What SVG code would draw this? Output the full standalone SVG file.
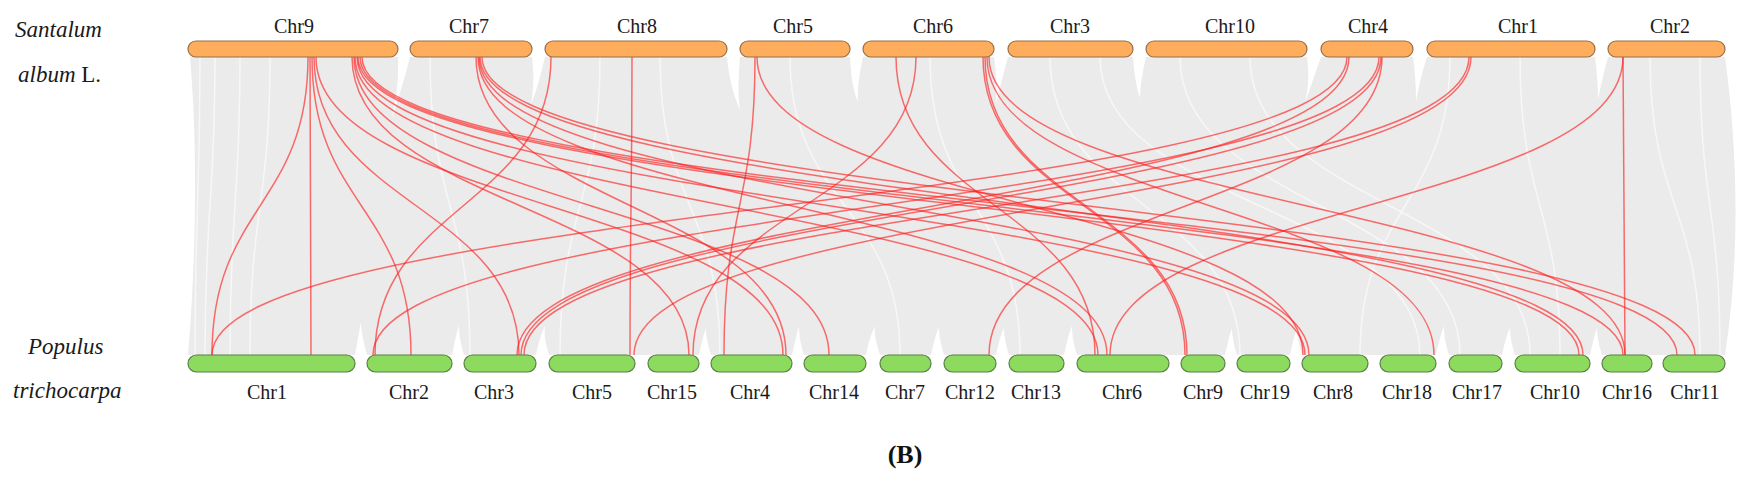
<svg xmlns="http://www.w3.org/2000/svg" width="1742" height="485" viewBox="0 0 1742 485">
<style>
.chrT{fill:#fdad5c;stroke:#9a7048;stroke-width:1.2}
.chrB{fill:#8ddb5e;stroke:#5b7f47;stroke-width:1.2}
.lab{font-family:"Liberation Serif","Times New Roman",serif;font-size:20px;fill:#1a1a1a;text-anchor:middle}
.sp{font-family:"Liberation Serif","Times New Roman",serif;font-size:23px;fill:#1a1a1a}
.red path{fill:none;stroke:#ff1a1a;stroke-opacity:0.62;stroke-width:1.5}
.gray path{fill:none;stroke:#f7f7f7;stroke-width:1.5}
</style>
<rect width="1742" height="485" fill="#ffffff"/>
<g id="background">
<path d="M190,57 L1725,57 C1738,150 1740,260 1725,355 L188,355 C196,260 198,150 190,57 Z" fill="#ebebeb"/>
<g class="gray">
<path d="M200,57 C200,206 195,206 195,355"/>
<path d="M215,57 C215,206 205,206 205,355"/>
<path d="M240,57 C240,206 230,206 230,355"/>
<path d="M270,57 C270,206 250,206 250,355"/>
<path d="M430,57 C430,206 470,206 470,355"/>
<path d="M600,57 C600,206 560,206 560,355"/>
<path d="M660,57 C660,206 720,206 720,355"/>
<path d="M790,57 C790,206 900,206 900,355"/>
<path d="M930,57 C930,206 1020,206 1020,355"/>
<path d="M1050,57 C1050,206 1240,206 1240,355"/>
<path d="M1100,57 C1100,206 1420,206 1420,355"/>
<path d="M1180,57 C1180,206 1460,206 1460,355"/>
<path d="M1250,57 C1250,206 1530,206 1530,355"/>
<path d="M1450,57 C1450,206 1360,206 1360,355"/>
<path d="M1520,57 C1520,206 1560,206 1560,355"/>
<path d="M1650,57 C1650,206 1700,206 1700,355"/>
<path d="M1700,57 C1700,206 1720,206 1720,355"/>
</g>
<g fill="#ffffff">
<path d="M398,57 L410,57 C404,80 398,100 392,118 C396,98 399,80 398,57 Z"/>
<path d="M532,57 L545,57 C540,78 536,92 531,104 C534,88 534,74 532,57 Z"/>
<path d="M727,57 L740,57 C738,80 738,96 740,110 C732,92 729,76 727,57 Z"/>
<path d="M850,57 L863,57 C859,76 857,90 858,102 C852,88 851,72 850,57 Z"/>
<path d="M994,57 L1008,57 C1002,78 999,92 996,104 C997,88 996,72 994,57 Z"/>
<path d="M1133,57 L1146,57 C1142,75 1140,88 1140,98 C1136,86 1134,72 1133,57 Z"/>
<path d="M1307,57 L1321,57 C1314,76 1310,90 1305,102 C1309,86 1309,72 1307,57 Z"/>
<path d="M1413,57 L1427,57 C1421,76 1418,90 1416,102 C1416,86 1415,72 1413,57 Z"/>
<path d="M1595,57 L1608,57 C1603,76 1600,90 1598,100 C1598,86 1597,72 1595,57 Z"/>
<path d="M355,355 L367,355 C363,340 361,330 361,322 C359,332 357,344 355,355 Z"/>
<path d="M452,355 L464,355 C460,342 459,332 459,325 C456,334 454,346 452,355 Z"/>
<path d="M536,355 L549,355 C545,342 544,334 545,326 C540,336 538,346 536,355 Z"/>
<path d="M699,355 L711,355 C707,342 706,334 706,328 C703,336 701,346 699,355 Z"/>
<path d="M792,355 L804,355 C800,342 799,334 799,326 C796,336 794,346 792,355 Z"/>
<path d="M866,355 L880,355 C876,342 874,334 875,326 C870,336 868,346 866,355 Z"/>
<path d="M931,355 L944,355 C940,342 939,334 939,327 C935,336 933,346 931,355 Z"/>
<path d="M996,355 L1009,355 C1005,342 1004,334 1004,328 C1000,336 998,346 996,355 Z"/>
<path d="M1064,355 L1077,355 C1073,342 1072,334 1072,326 C1068,336 1066,346 1064,355 Z"/>
<path d="M1225,355 L1237,355 C1233,342 1232,334 1232,328 C1229,336 1227,346 1225,355 Z"/>
<path d="M1290,355 L1302,355 C1298,342 1297,334 1297,328 C1294,336 1292,346 1290,355 Z"/>
<path d="M1436,355 L1449,355 C1445,342 1444,334 1444,326 C1440,336 1438,346 1436,355 Z"/>
<path d="M1502,355 L1515,355 C1511,342 1510,334 1510,328 C1506,336 1504,346 1502,355 Z"/>
<path d="M1590,355 L1602,355 C1598,342 1597,334 1597,328 C1594,336 1592,346 1590,355 Z"/>
</g>
</g>
<g id="links" class="red">
<path d="M308,57 C308,206 212,206 212,355"/>
<path d="M310,57 C310,206 311,206 311,355"/>
<path d="M312,57 C312,206 411,206 411,355"/>
<path d="M314,57 C314,206 519,206 519,355"/>
<path d="M316,57 C316,206 783,206 783,355"/>
<path d="M352,57 C352,206 689,206 689,355"/>
<path d="M354,57 C354,206 829,206 829,355"/>
<path d="M355,57 C355,206 1098,206 1098,355"/>
<path d="M357,57 C357,206 1305,206 1305,355"/>
<path d="M358,57 C358,206 1579,206 1579,355"/>
<path d="M360,57 C360,206 1623,206 1623,355"/>
<path d="M362,57 C362,206 1677,206 1677,355"/>
<path d="M476,57 C476,206 786,206 786,355"/>
<path d="M478,57 C478,206 1107,206 1107,355"/>
<path d="M479,57 C479,206 1309,206 1309,355"/>
<path d="M480,57 C480,206 1583,206 1583,355"/>
<path d="M482,57 C482,206 1695,206 1695,355"/>
<path d="M551,57 C551,206 375,206 375,355"/>
<path d="M632,57 C632,206 630,206 630,355"/>
<path d="M755,57 C755,206 724,206 724,355"/>
<path d="M757,57 C757,206 1303,206 1303,355"/>
<path d="M896,57 C896,206 1095,206 1095,355"/>
<path d="M916,57 C916,206 693,206 693,355"/>
<path d="M983,57 C983,206 1185,206 1185,355"/>
<path d="M985,57 C985,206 1187,206 1187,355"/>
<path d="M987,57 C987,206 1434,206 1434,355"/>
<path d="M989,57 C989,206 1625,206 1625,355"/>
<path d="M1347,57 C1347,206 212,206 212,355"/>
<path d="M1349,57 C1349,206 517,206 517,355"/>
<path d="M1379,57 C1379,206 373,206 373,355"/>
<path d="M1381,57 C1381,206 521,206 521,355"/>
<path d="M1382,57 C1382,206 989,206 989,355"/>
<path d="M1469,57 C1469,206 524,206 524,355"/>
<path d="M1471,57 C1471,206 634,206 634,355"/>
<path d="M1623,57 C1623,206 1110,206 1110,355"/>
<path d="M1623,57 L1625,355"/>
</g>
<g id="species">
<text class="sp" x="15" y="37" font-style="italic">Santalum</text>
<text class="sp" x="18" y="82"><tspan font-style="italic">album</tspan> L.</text>
<text class="sp" x="28" y="354" font-style="italic">Populus</text>
<text class="sp" x="13" y="398" font-style="italic">trichocarpa</text>
</g>
<g id="top-chromosomes">
<g id="top-chr9"><rect class="chrT" x="188" y="41" width="210" height="16" rx="8"/><text class="lab" x="294" y="33">Chr9</text></g>
<g id="top-chr7"><rect class="chrT" x="410" y="41" width="122" height="16" rx="8"/><text class="lab" x="469" y="33">Chr7</text></g>
<g id="top-chr8"><rect class="chrT" x="545" y="41" width="182" height="16" rx="8"/><text class="lab" x="637" y="33">Chr8</text></g>
<g id="top-chr5"><rect class="chrT" x="740" y="41" width="110" height="16" rx="8"/><text class="lab" x="793" y="33">Chr5</text></g>
<g id="top-chr6"><rect class="chrT" x="863" y="41" width="131" height="16" rx="8"/><text class="lab" x="933" y="33">Chr6</text></g>
<g id="top-chr3"><rect class="chrT" x="1008" y="41" width="125" height="16" rx="8"/><text class="lab" x="1070" y="33">Chr3</text></g>
<g id="top-chr10"><rect class="chrT" x="1146" y="41" width="161" height="16" rx="8"/><text class="lab" x="1230" y="33">Chr10</text></g>
<g id="top-chr4"><rect class="chrT" x="1321" y="41" width="92" height="16" rx="8"/><text class="lab" x="1368" y="33">Chr4</text></g>
<g id="top-chr1"><rect class="chrT" x="1427" y="41" width="168" height="16" rx="8"/><text class="lab" x="1518" y="33">Chr1</text></g>
<g id="top-chr2"><rect class="chrT" x="1608" y="41" width="117" height="16" rx="8"/><text class="lab" x="1670" y="33">Chr2</text></g>
</g>
<g id="bottom-chromosomes">
<g id="bot-chr1"><rect class="chrB" x="188" y="355" width="167" height="17" rx="8.5"/><text class="lab" x="267" y="399">Chr1</text></g>
<g id="bot-chr2"><rect class="chrB" x="367" y="355" width="85" height="17" rx="8.5"/><text class="lab" x="409" y="399">Chr2</text></g>
<g id="bot-chr3"><rect class="chrB" x="464" y="355" width="72" height="17" rx="8.5"/><text class="lab" x="494" y="399">Chr3</text></g>
<g id="bot-chr5"><rect class="chrB" x="549" y="355" width="86" height="17" rx="8.5"/><text class="lab" x="592" y="399">Chr5</text></g>
<g id="bot-chr15"><rect class="chrB" x="648" y="355" width="51" height="17" rx="8.5"/><text class="lab" x="672" y="399">Chr15</text></g>
<g id="bot-chr4"><rect class="chrB" x="711" y="355" width="81" height="17" rx="8.5"/><text class="lab" x="750" y="399">Chr4</text></g>
<g id="bot-chr14"><rect class="chrB" x="804" y="355" width="62" height="17" rx="8.5"/><text class="lab" x="834" y="399">Chr14</text></g>
<g id="bot-chr7"><rect class="chrB" x="880" y="355" width="51" height="17" rx="8.5"/><text class="lab" x="905" y="399">Chr7</text></g>
<g id="bot-chr12"><rect class="chrB" x="944" y="355" width="52" height="17" rx="8.5"/><text class="lab" x="970" y="399">Chr12</text></g>
<g id="bot-chr13"><rect class="chrB" x="1009" y="355" width="55" height="17" rx="8.5"/><text class="lab" x="1036" y="399">Chr13</text></g>
<g id="bot-chr6"><rect class="chrB" x="1077" y="355" width="92" height="17" rx="8.5"/><text class="lab" x="1122" y="399">Chr6</text></g>
<g id="bot-chr9"><rect class="chrB" x="1181" y="355" width="44" height="17" rx="8.5"/><text class="lab" x="1203" y="399">Chr9</text></g>
<g id="bot-chr19"><rect class="chrB" x="1237" y="355" width="53" height="17" rx="8.5"/><text class="lab" x="1265" y="399">Chr19</text></g>
<g id="bot-chr8"><rect class="chrB" x="1302" y="355" width="66" height="17" rx="8.5"/><text class="lab" x="1333" y="399">Chr8</text></g>
<g id="bot-chr18"><rect class="chrB" x="1380" y="355" width="56" height="17" rx="8.5"/><text class="lab" x="1407" y="399">Chr18</text></g>
<g id="bot-chr17"><rect class="chrB" x="1449" y="355" width="53" height="17" rx="8.5"/><text class="lab" x="1477" y="399">Chr17</text></g>
<g id="bot-chr10"><rect class="chrB" x="1515" y="355" width="75" height="17" rx="8.5"/><text class="lab" x="1555" y="399">Chr10</text></g>
<g id="bot-chr16"><rect class="chrB" x="1602" y="355" width="50" height="17" rx="8.5"/><text class="lab" x="1627" y="399">Chr16</text></g>
<g id="bot-chr11"><rect class="chrB" x="1663" y="355" width="62" height="17" rx="8.5"/><text class="lab" x="1695" y="399">Chr11</text></g>
</g>
<text x="905" y="463" font-family="'Liberation Serif','Times New Roman',serif" font-size="26" font-weight="bold" text-anchor="middle" fill="#111">(B)</text>
</svg>
